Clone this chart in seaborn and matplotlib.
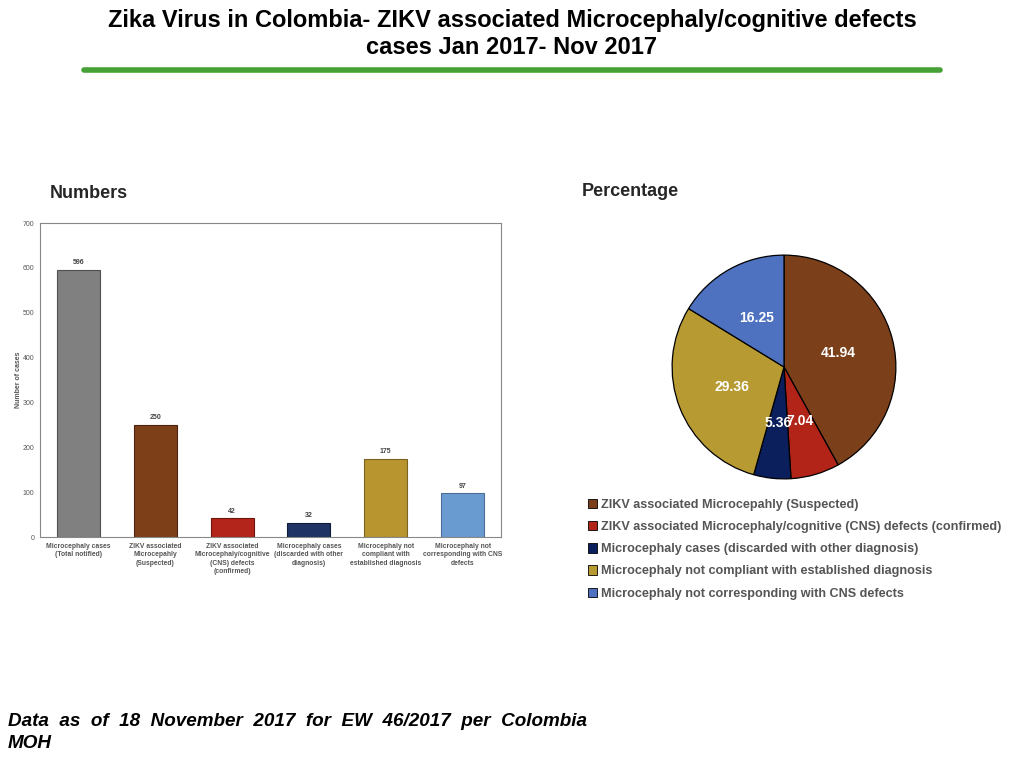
import matplotlib
matplotlib.use("Agg")
import matplotlib.pyplot as plt
from matplotlib.patches import Patch
import seaborn as sns
import pandas as pd

sns.set_theme(style="white")
plt.rcParams['font.family'] = ['Liberation Sans', 'DejaVu Sans']

# ---- data ----
bar_categories = [
    "Microcephaly cases\n(Total notified)",
    "ZIKV associated\nMicrocepahly\n(Suspected)",
    "ZIKV associated\nMicrocephaly/cognitive\n(CNS) defects\n(confirmed)",
    "Microcephaly cases\n(discarded with other\ndiagnosis)",
    "Microcephaly not\ncompliant with\nestablished diagnosis",
    "Microcephaly not\ncorresponding with CNS\ndefects",
]
bar_values = [596, 250, 42, 32, 175, 97]
bar_colors = ["#808080", "#7D3F18", "#B3241A", "#1F3464", "#B8952F", "#6A9BD0"]
bar_edges = ["#505050", "#4A2410", "#6E140E", "#101C38", "#7A6220", "#4A6E96"]

pie_labels = [
    "ZIKV associated Microcepahly (Suspected)",
    "ZIKV associated Microcephaly/cognitive (CNS) defects (confirmed)",
    "Microcephaly cases (discarded with other diagnosis)",
    "Microcephaly not compliant with established diagnosis",
    "Microcephaly not corresponding with CNS defects",
]
pie_values = [41.94, 7.04, 5.36, 29.36, 16.25]
pie_texts = ["41.94", "7.04", "5.36", "29.36", "16.25"]
pie_colors = ["#7B3F1A", "#B22418", "#0B1F5C", "#B89A33", "#4F72C0"]

y_ticks = [0, 100, 200, 300, 400, 500, 600, 700]

fig = plt.figure(figsize=(10.24, 7.68), dpi=100)

# ---- title ----
title_font = ["Liberation Sans Narrow", "Liberation Sans", "DejaVu Sans"]
fig.text(0.5, 1-20/768, "Zika Virus in Colombia- ZIKV associated Microcephaly/cognitive defects",
         ha="center", va="center", fontsize=17, fontweight="bold",
         family=title_font, color="black")
fig.text(0.5, 1-48/768, "cases Jan 2017- Nov 2017",
         ha="center", va="center", fontsize=17, fontweight="bold",
         family=title_font, color="black")
fig.add_artist(plt.Line2D([84/1024, 940/1024], [1-70/768, 1-70/768],
                          color="#45A035", linewidth=4, transform=fig.transFigure))

fig.text(50/1024, 1-193/768, "Numbers", ha="left", va="center", fontsize=13, fontweight="bold")
fig.text(582/1024, 1-191/768, "Percentage", ha="left", va="center", fontsize=13, fontweight="bold")

# ---- bar chart ----
ax = fig.add_axes([40/1024, 1-537/768, 461/1024, 314/768])
df = pd.DataFrame({"cat": bar_categories, "val": bar_values})
sns.barplot(data=df, x="cat", y="val", hue="cat", palette=bar_colors,
            legend=False, width=0.56, ax=ax, saturation=1)
for p, ec in zip(ax.patches, bar_edges):
    p.set_edgecolor(ec)
    p.set_linewidth(0.8)
for i, v in enumerate(bar_values):
    ax.text(i, v + 8, str(v), ha="center", va="bottom", fontsize=5,
            fontweight="bold", color="#444444")
ax.set_xlim(-0.5, 5.5)
ax.set_ylim(0, 700)
ax.set_yticks(y_ticks)
ax.set_yticklabels([str(t) for t in y_ticks], fontsize=5, color="#555555")
ax.set_xticks(range(len(bar_categories)))
ax.set_xticklabels(bar_categories, fontsize=4.9, fontweight="bold", color="#555555",
                   linespacing=1.3)
ax.tick_params(axis="both", length=0, pad=4)
ax.set_xlabel("")
ax.set_ylabel("Number of cases", fontsize=5, fontweight="bold", color="#555555")
ax.yaxis.set_label_coords(-0.039, 0.5)
for s in ax.spines.values():
    s.set_color("#888888")
    s.set_linewidth(0.8)

# ---- pie chart ----
axp = fig.add_axes([671/1024, 1-480/768, 226/1024, 226/768])
axp.pie(pie_values, labels=pie_texts, colors=pie_colors, startangle=90,
        counterclock=False, labeldistance=0.5,
        wedgeprops=dict(edgecolor="black", linewidth=0.9),
        textprops=dict(color="white", fontsize=10, fontweight="bold",
                       ha="center", va="center"))
axp.set_xlim(-1.01, 1.01)
axp.set_ylim(-1.01, 1.01)
axp.set_aspect("equal")
axp.axis("off")

handles = [Patch(facecolor=c, edgecolor="black", linewidth=0.6) for c in pie_colors]
leg = fig.legend(handles, pie_labels, loc="upper left",
                 bbox_to_anchor=(588/1024, 1-499/768), frameon=False,
                 fontsize=9.1, handlelength=0.75, handleheight=0.75,
                 handletextpad=0.3, labelspacing=0.8, borderaxespad=0, borderpad=0)
for t in leg.get_texts():
    t.set_color("#555555")
    t.set_fontweight("bold")

# ---- footer ----
fig.text(8/1024, 1-713/768,
         "Data  as  of  18  November  2017  for  EW  46/2017  per  Colombia\nMOH",
         ha="left", va="top", fontsize=13.6, fontweight="bold", fontstyle="italic",
         linespacing=1.4, color="black")

fig.savefig("out.png", dpi=100)
